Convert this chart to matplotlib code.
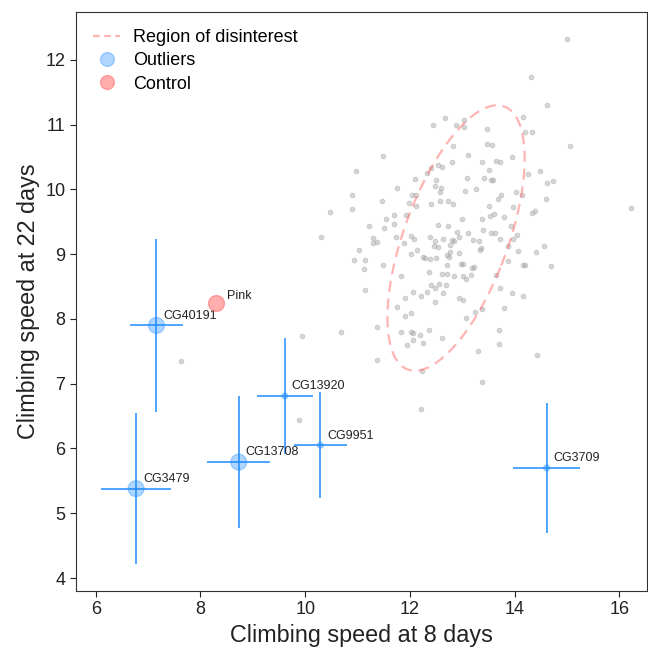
"""Climbing speed scatter: outliers vs. the bulk of lines
"""

import numpy as np
import matplotlib.pyplot as plt
from matplotlib.patches import Ellipse
from matplotlib.lines import Line2D

plt.rcParams['font.family'] = ['Liberation Sans', 'DejaVu Sans']

# background lines (gray cloud)
bg_x = [14.99, 14.31, 14.62, 14.15, 14.20, 14.33, 15.06, 12.67, 12.44, 12.88,
        13.04, 13.04, 13.48, 12.83, 13.48, 13.57, 11.48, 10.97, 13.11, 12.81,
        13.38, 13.65, 13.72, 13.95, 12.54, 12.41, 12.62, 12.33, 13.51, 14.25,
        14.48, 12.09, 12.50, 13.09, 13.41, 13.55, 13.59, 14.61, 14.73, 11.75,
        12.47, 12.60, 12.58, 13.06, 13.26, 10.90, 12.04, 12.12, 13.73, 13.69,
        14.03, 14.14, 14.60, 11.46, 11.98, 12.11, 12.41, 12.58, 12.72, 12.82,
        10.90, 13.51, 13.96, 14.33, 14.39, 16.22, 11.69, 11.93, 11.55, 11.51,
        11.69, 11.21, 12.53, 12.73, 13.00, 13.37, 13.52, 13.61, 13.79, 13.93,
        12.90, 13.11, 13.40, 13.55, 13.63, 13.72, 14.05, 13.96, 11.30, 11.38,
        11.29, 11.73, 11.89, 12.02, 12.08, 12.39, 12.48, 12.64, 12.80, 12.85,
        12.94, 13.21, 13.31, 12.45, 12.54, 12.76, 11.02, 10.93, 11.14, 11.12,
        12.13, 12.02, 12.70, 12.76, 12.93, 12.74, 12.25, 12.29, 12.39, 12.50,
        13.33, 13.36, 13.88, 14.07, 14.55, 14.40, 11.48, 12.37, 12.70, 12.97,
        13.02, 13.18, 13.23, 14.15, 14.19, 14.70, 13.88, 11.83, 12.62, 12.70,
        12.85, 13.02, 13.07, 13.16, 13.64, 12.40, 12.55, 12.68, 12.48, 12.33,
        12.22, 12.05, 12.63, 13.71, 13.95, 14.16, 11.15, 11.90, 12.93, 13.02,
        12.48, 11.75, 12.02, 11.90, 13.25, 13.38, 13.79, 13.07, 11.38, 11.83,
        12.02, 12.06, 12.19, 12.36, 13.70, 10.69, 12.05, 12.24, 11.95, 12.62,
        13.70, 13.29, 11.38, 14.42, 12.23, 12.22, 13.38, 10.31, 7.63, 9.94,
        9.89, 10.48]
bg_y = [12.33, 11.74, 11.30, 11.12, 10.88, 10.88, 10.67, 11.11, 10.99, 11.00,
        11.08, 10.97, 10.94, 10.67, 10.70, 10.69, 10.52, 10.29, 10.53, 10.42,
        10.43, 10.44, 10.42, 10.50, 10.38, 10.33, 10.34, 10.26, 10.30, 10.24,
        10.29, 10.16, 10.14, 10.17, 10.17, 10.14, 10.15, 10.10, 10.13, 10.02,
        10.06, 10.02, 9.96, 9.97, 10.00, 9.91, 9.91, 9.92, 9.91, 9.86,
        9.96, 9.91, 9.85, 9.82, 9.79, 9.75, 9.78, 9.82, 9.82, 9.78,
        9.70, 9.75, 9.73, 9.64, 9.66, 9.72, 9.60, 9.61, 9.55, 9.40,
        9.46, 9.44, 9.45, 9.43, 9.54, 9.54, 9.59, 9.62, 9.57, 9.44,
        9.35, 9.33, 9.37, 9.33, 9.32, 9.24, 9.29, 9.24, 9.25, 9.19,
        9.17, 9.26, 9.18, 9.28, 9.24, 9.26, 9.20, 9.24, 9.22, 9.20,
        9.27, 9.22, 9.21, 9.13, 9.11, 9.14, 9.07, 8.91, 8.91, 8.77,
        9.06, 9.00, 8.99, 9.03, 9.02, 8.95, 8.96, 8.94, 8.92, 8.94,
        9.06, 9.09, 9.13, 9.05, 9.12, 9.03, 8.83, 8.73, 8.84, 8.85,
        8.85, 8.78, 8.80, 8.84, 8.83, 8.82, 8.90, 8.66, 8.69, 8.69,
        8.67, 8.66, 8.61, 8.68, 8.68, 8.52, 8.54, 8.52, 8.48, 8.42,
        8.36, 8.42, 8.40, 8.48, 8.40, 8.35, 8.44, 8.33, 8.33, 8.30,
        8.26, 8.18, 8.09, 8.05, 8.10, 8.16, 8.17, 8.01, 7.88, 7.80,
        7.80, 7.78, 7.76, 7.83, 7.83, 7.80, 7.67, 7.63, 7.60, 7.71,
        7.61, 7.50, 7.36, 7.44, 7.19, 6.61, 7.03, 9.27, 7.35, 7.73,
        6.44, 9.65]

# outliers with standard errors
out_names = ['CG40191', 'CG3479', 'CG13708', 'CG13920', 'CG9951', 'CG3709']
out_x = [7.16, 6.77, 8.73, 9.61, 10.29, 14.61]
out_y = [7.90, 5.38, 5.79, 6.81, 6.05, 5.70]
out_xerr = [0.50, 0.66, 0.60, 0.53, 0.50, 0.64]
out_yerr = [1.33, 1.17, 1.02, 0.90, 0.82, 1.00]
out_size = [130, 130, 130, 18, 18, 18]

ctrl_name = 'Pink'
ctrl_x = [8.29]
ctrl_y = [8.25]

# region of disinterest (centre, spread, correlation)
ell_center = (12.88, 9.25)
ell_sx, ell_sy, ell_rho = 1.31, 2.05, 0.60

blue = '#1e8cff'
red = '#ff6b6b'

fig = plt.figure(figsize=(6.48, 6.52), dpi=100)
ax = fig.add_axes([0.117, 0.0936, 0.881, 0.888])

ax.scatter(bg_x, bg_y, s=12, color='#9a9a9a', alpha=0.4, lw=0.6, zorder=1)

cov = np.array([[ell_sx**2, ell_rho * ell_sx * ell_sy],
                [ell_rho * ell_sx * ell_sy, ell_sy**2]])
vals, vecs = np.linalg.eigh(cov)
angle = np.degrees(np.arctan2(vecs[1, 1], vecs[0, 1]))
ell = Ellipse(ell_center, 2 * np.sqrt(vals[1]), 2 * np.sqrt(vals[0]),
              angle=angle, fill=False, ec=red, alpha=0.5, lw=1.6,
              ls=(0, (5, 3)), zorder=2)
ax.add_patch(ell)

ax.errorbar(out_x, out_y, xerr=out_xerr, yerr=out_yerr, fmt='none',
            ecolor=blue, elinewidth=1.1, capsize=0, zorder=3)
ax.scatter(out_x, out_y, s=out_size, color=blue, alpha=0.35, lw=1,
           zorder=4)
ax.scatter(ctrl_x, ctrl_y, s=130, color=red, alpha=0.55, lw=1, zorder=4)

for name, x, y in zip(out_names, out_x, out_y):
    ax.annotate(name, (x, y), xytext=(5, 7), textcoords='offset points',
                ha='left', va='center', fontsize=9, color='#222222')
ax.annotate(ctrl_name, (ctrl_x[0], ctrl_y[0]), xytext=(8, 5),
            textcoords='offset points', ha='left', va='center', fontsize=9,
            color='#222222')

handles = [
    Line2D([], [], color=red, alpha=0.5, lw=1.6, ls=(0, (3, 2))),
    Line2D([], [], ls='none', marker='o', ms=10, mfc=blue, mec=blue,
           alpha=0.35),
    Line2D([], [], ls='none', marker='o', ms=10, mfc=red, mec=red,
           alpha=0.55),
]
ax.legend(handles, ['Region of disinterest', 'Outliers', 'Control'],
          loc='upper left', frameon=False, fontsize=13, handlelength=1.5,
          handletextpad=0.7, borderaxespad=0.6, labelspacing=0.35,
          borderpad=0.35)

ax.set_xlim(5.62, 16.52)
ax.set_ylim(3.80, 12.74)
ax.set_xticks([6, 8, 10, 12, 14, 16])
ax.set_yticks([4, 5, 6, 7, 8, 9, 10, 11, 12])
ax.tick_params(labelsize=13, colors='#222222', length=4)
for sp in ax.spines.values():
    sp.set_color('#333333')
ax.set_xlabel('Climbing speed at 8 days', fontsize=16.8, color='#222222')
ax.set_ylabel('Climbing speed at 22 days', fontsize=16.8, color='#222222')

fig.savefig('out.png', dpi=100)
